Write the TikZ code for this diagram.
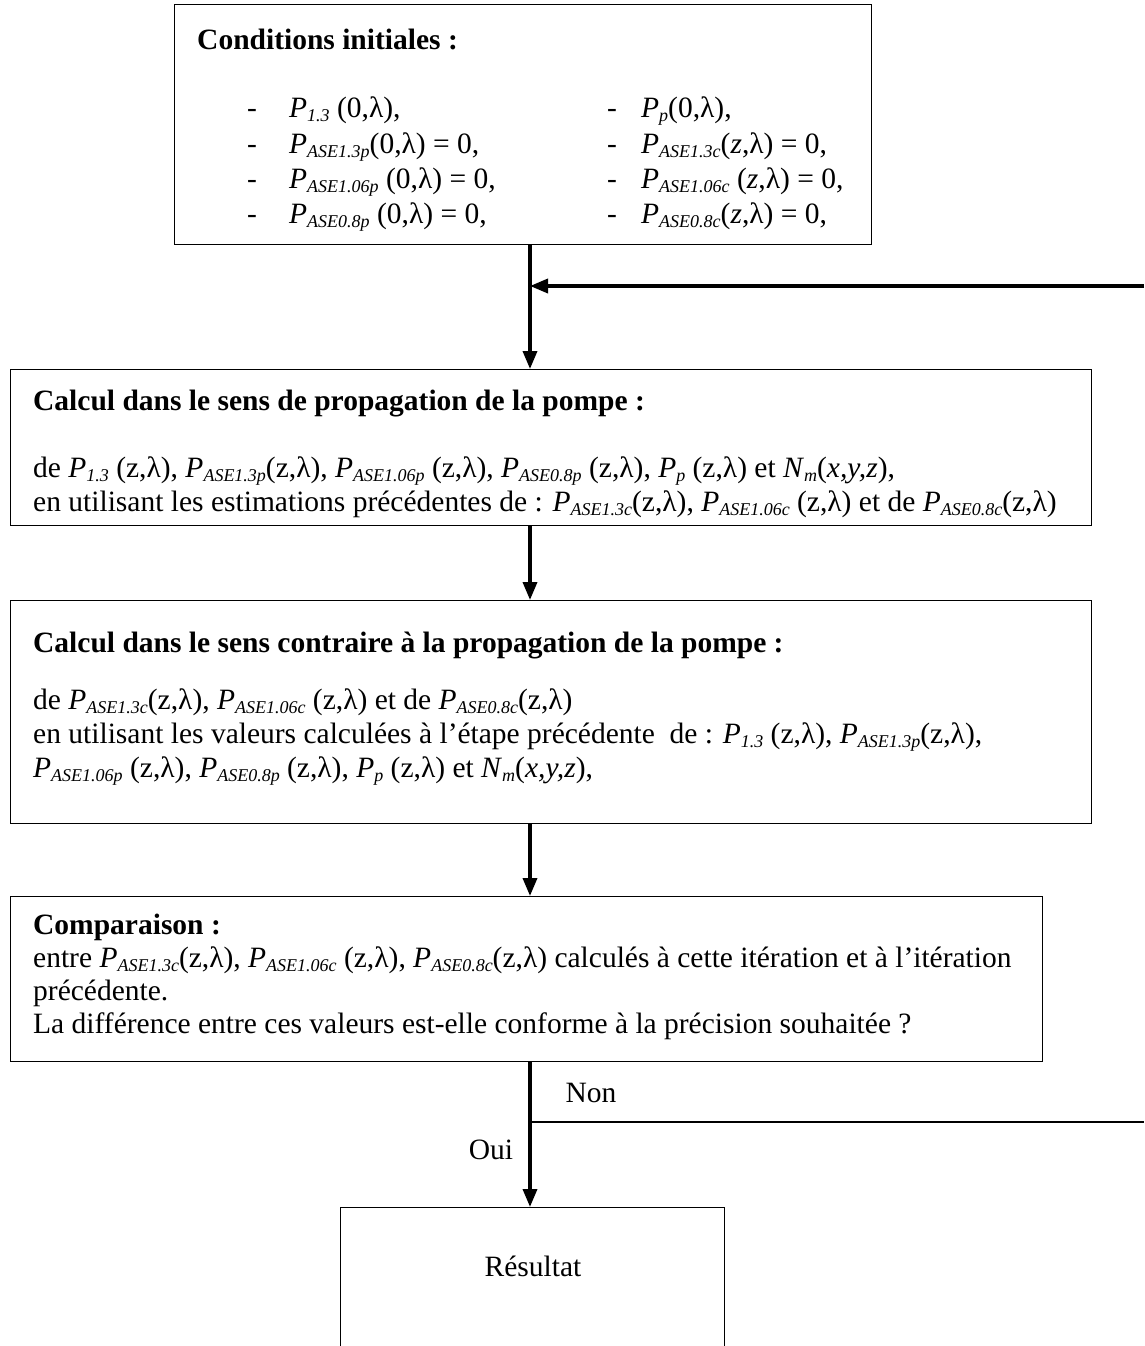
\documentclass[tikz,border=0pt]{standalone}
\usepackage{fontspec}
\setmainfont{Liberation Serif}
\usetikzlibrary{arrows.meta}
\newcommand{\sbs}[1]{\raisebox{-4.5pt}{\fontsize{18}{18}\selectfont\itshape #1}}
\newcommand{\PS}[1]{\textit{P}\sbs{#1}}
\newcommand{\Nm}{\textit{N}\sbs{m}(\textit{x,y,z})}
\tikzset{
  boxst/.style={draw, line width=1.2pt, anchor=north west, inner sep=0pt},
  txt/.style={anchor=base west, inner sep=0pt, font=\fontsize{29.5}{33}\selectfont},
  ttl/.style={anchor=base west, inner sep=0pt, font=\fontsize{29.5}{33}\selectfont\bfseries},
  lbl/.style={inner sep=0pt, font=\fontsize{29.5}{33}\selectfont},
  flow/.style={line width=3.5pt, -{Triangle[length=18pt,width=14pt]}},
  plainline/.style={line width=1.5pt}
}
\begin{document}
\begin{tikzpicture}[x=1pt,y=-1pt]
\clip (0,0) rectangle (1144,1346);
\useasboundingbox (0,0) rectangle (1144,1346);
\fill[white] (0,0) rectangle (1144,1346);
% boxes
\node[boxst, minimum width=697pt, minimum height=240pt] (b1) at (174,4) {};
\node[boxst, minimum width=1081pt, minimum height=156pt] (b2) at (10,369) {};
\node[boxst, minimum width=1081pt, minimum height=223pt] (b3) at (10,600) {};
\node[boxst, minimum width=1032pt, minimum height=165pt] (b4) at (10,896) {};
\node[boxst, minimum width=384pt, minimum height=200pt] (b5) at (340,1207) {};
% box 1
\node[ttl] (t1) at (197,50) {Conditions initiales :};
\node[txt] (d1) at (247,117) {-};
\node[txt] (d2) at (247,153) {-};
\node[txt] (d3) at (247,188) {-};
\node[txt] (d4) at (247,223) {-};
\node[txt] (d5) at (607,117) {-};
\node[txt] (d6) at (607,153) {-};
\node[txt] (d7) at (607,188) {-};
\node[txt] (d8) at (607,223) {-};
\node[txt] (c1) at (289,117) {\PS{1.3} (0,λ),};
\node[txt] (c2) at (289,153) {\PS{ASE1.3p}(0,λ) = 0,};
\node[txt] (c3) at (289,188) {\PS{ASE1.06p} (0,λ) = 0,};
\node[txt] (c4) at (289,223) {\PS{ASE0.8p} (0,λ) = 0,};
\node[txt] (c5) at (641,117) {\PS{p}(0,λ),};
\node[txt] (c6) at (641,153) {\PS{ASE1.3c}(\textit{z},λ) = 0,};
\node[txt] (c7) at (641,188) {\PS{ASE1.06c} (\textit{z},λ) = 0,};
\node[txt] (c8) at (641,223) {\PS{ASE0.8c}(\textit{z},λ) = 0,};
% box 2
\node[ttl] (t2) at (33,410) {Calcul dans le sens de propagation de la pompe :};
\node[txt] (l21) at (33,477) {de \PS{1.3} (z,λ), \PS{ASE1.3p}(z,λ), \PS{ASE1.06p} (z,λ), \PS{ASE0.8p} (z,λ), \PS{p} (z,λ) et \Nm,};
\node[txt] (l22) at (33,511) {en utilisant les estimations précédentes de : \PS{ASE1.3c}(z,λ), \PS{ASE1.06c} (z,λ) et de \PS{ASE0.8c}(z,λ)};
% box 3
\node[ttl] (t3) at (33,652) {Calcul dans le sens contraire à la propagation de la pompe :};
\node[txt] (l31) at (33,709) {de \PS{ASE1.3c}(z,λ), \PS{ASE1.06c} (z,λ) et de \PS{ASE0.8c}(z,λ)};
\node[txt] (l32) at (33,743) {en utilisant les valeurs calculées à l’étape précédente\ \ de : \PS{1.3} (z,λ), \PS{ASE1.3p}(z,λ),};
\node[txt] (l33) at (33,777) {\PS{ASE1.06p} (z,λ), \PS{ASE0.8p} (z,λ), \PS{p} (z,λ) et \Nm,};
% box 4
\node[ttl] (t4) at (33,934) {Comparaison :};
\node[txt] (l41) at (33,967) {entre \PS{ASE1.3c}(z,λ), \PS{ASE1.06c} (z,λ), \PS{ASE0.8c}(z,λ) calculés à cette itération et à l’itération};
\node[txt] (l42) at (33,1000) {précédente.};
\node[txt] (l43) at (33,1033) {La différence entre ces valeurs est-elle conforme à la précision souhaitée ?};
% result
\node[lbl] (r) at (533,1266) {Résultat};
% connectors
\coordinate (ax) at (530,0);
\coordinate (fbR) at (1144,286);
\coordinate (fbL) at (ax |- fbR);
\coordinate (nonR) at (1144,1122);
\coordinate (nonL) at (ax |- nonR);
\draw[flow] (b1.south -| ax) -- (b2.north -| ax);
\draw[flow] (fbR) -- (fbL);
\draw[flow] (b2.south -| ax) -- (b3.north -| ax);
\draw[flow] (b3.south -| ax) -- (b4.north -| ax);
\draw[flow] (b4.south -| ax) -- (b5.north -| ax);
\draw[plainline] (nonL) -- (nonR);
\node[lbl] (non) at (591,1093) {Non};
\node[lbl] (oui) at (491,1150) {Oui};
\end{tikzpicture}
\end{document}
